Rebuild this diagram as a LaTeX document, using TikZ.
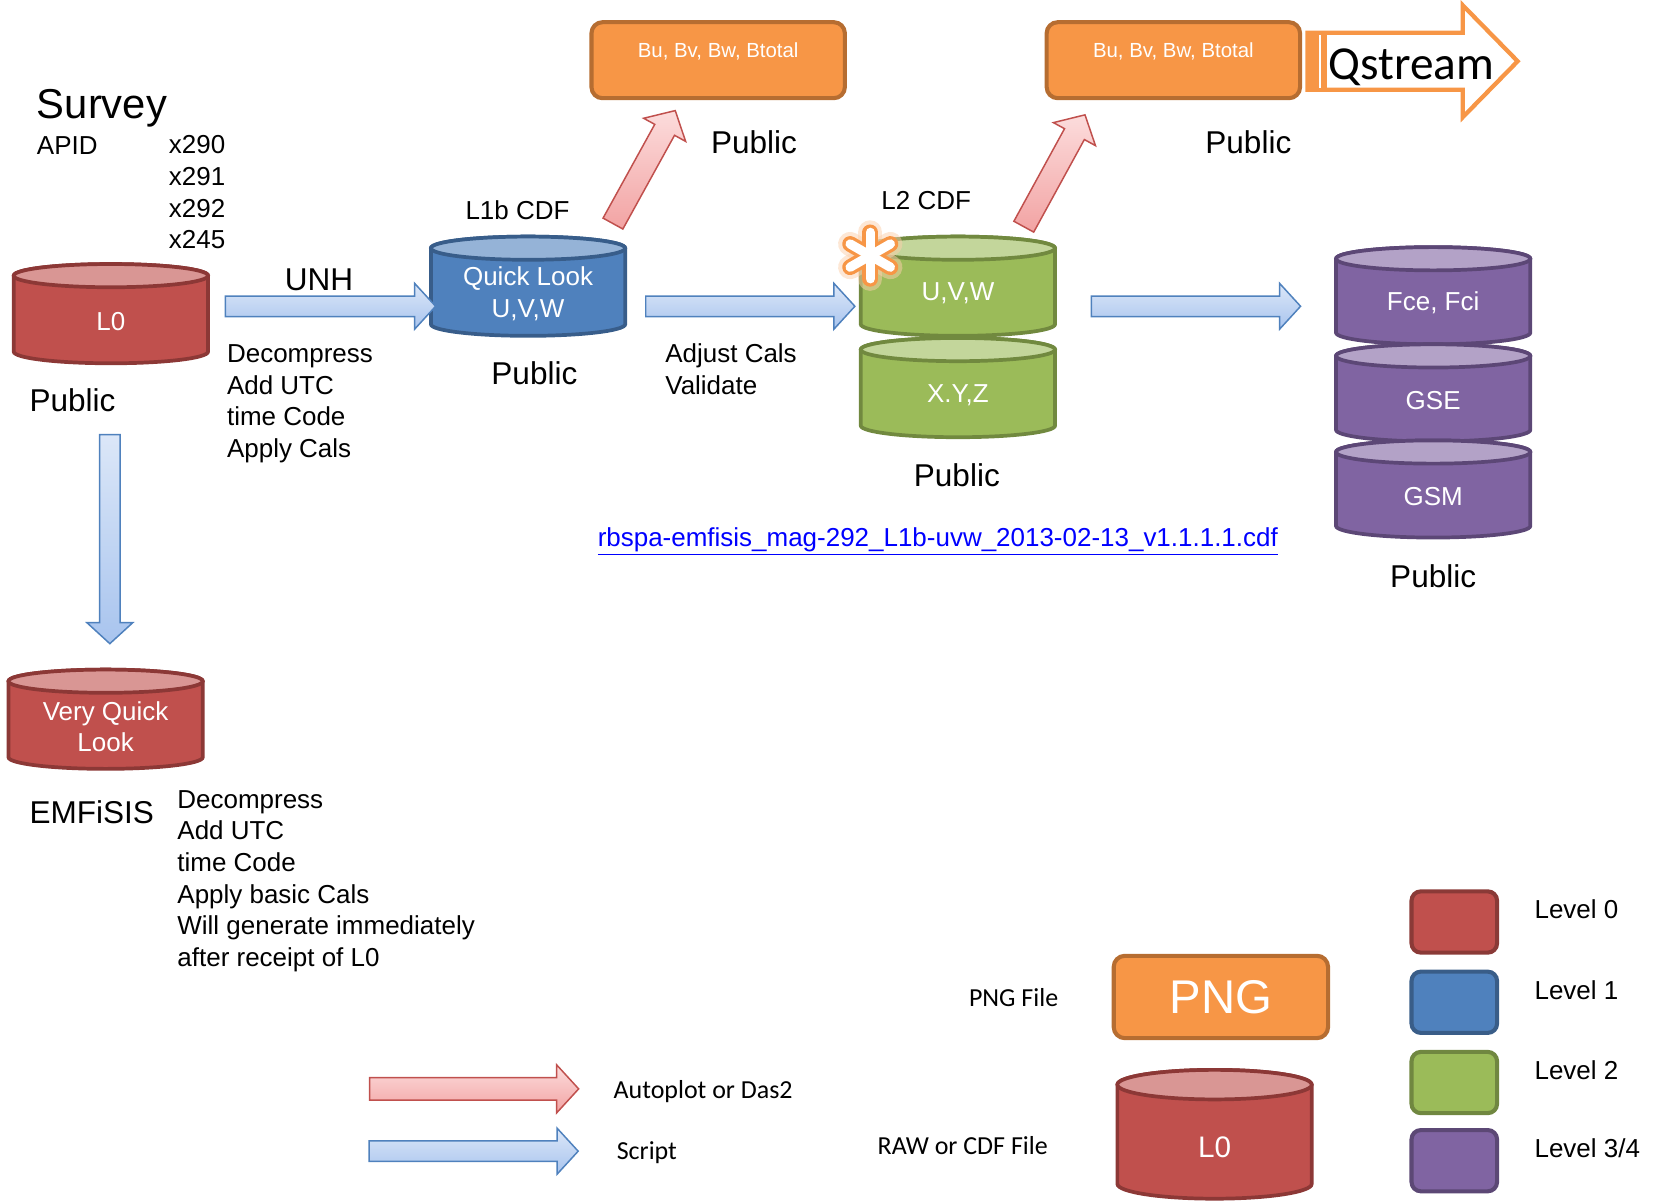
\documentclass[tikz,border=0pt]{standalone}
\usepackage{fontspec}
\setmainfont{Liberation Sans}
\newfontfamily\calibrifont{Carlito}
\usetikzlibrary{shapes.arrows,calc,positioning}

\definecolor{lzero}{HTML}{C0504D}
\definecolor{lzeroline}{HTML}{8C3836}
\definecolor{lzerotop}{HTML}{D99694}
\definecolor{lone}{HTML}{4F81BD}
\definecolor{loneline}{HTML}{385D8A}
\definecolor{lonetop}{HTML}{95B3D7}
\definecolor{ltwo}{HTML}{9BBB59}
\definecolor{ltwoline}{HTML}{71893F}
\definecolor{ltwotop}{HTML}{C3D69B}
\definecolor{lthree}{HTML}{8064A2}
\definecolor{lthreeline}{HTML}{5C4776}
\definecolor{lthreetop}{HTML}{B3A2C7}
\definecolor{plot}{HTML}{F79646}
\definecolor{plotline}{HTML}{B66D31}
\definecolor{scriptline}{HTML}{4F81BD}
\definecolor{scripttop}{HTML}{DCE7F8}
\definecolor{scriptbot}{HTML}{A8C4EE}
\definecolor{autoline}{HTML}{C0504D}
\definecolor{autotop}{HTML}{FCDCDC}
\definecolor{autobot}{HTML}{F2A3A3}

\tikzset{
  txt/.style={font=\fontsize{14}{17.07}\selectfont},
  pubtxt/.style={font=\fontsize{17}{20}\selectfont},
  calib/.style={font=\calibrifont\fontsize{14}{17}\selectfont},
  dbtxt/.style={minimum width=3.68cm, text=white, align=center, font=\fontsize{14}{17.07}\selectfont},
  plotbox/.style={draw=plotline, fill=plot, line width=2.2pt, rounded corners=6pt},
  swatch/.style={draw, line width=2.2pt, rounded corners=5pt, minimum width=1.62cm, minimum height=1.16cm},
  script/.style={single arrow, draw=scriptline, line width=0.8pt, top color=scripttop,
    bottom color=scriptbot, inner xsep=0pt, inner ysep=0.18cm, single arrow head extend=0.24cm,
    single arrow tip angle=95, allow upside down},
  autoplot/.style={single arrow, draw=autoline, line width=0.8pt, top color=autotop,
    bottom color=autobot, inner xsep=0pt, inner ysep=0.2cm, single arrow head extend=0.24cm,
    single arrow tip angle=95, allow upside down}
}
% drum: centre, half height, ellipse radius, colour
\newcommand{\drum}[4]{%
  \begin{scope}[shift={(#1)}]
    \filldraw[line width=2pt, draw=#4line, fill=#4] (-92,-#2+#3) -- (-92,#2-#3)
      arc[start angle=180, end angle=0, x radius=92, y radius=#3] -- (92,-#2+#3)
      arc[start angle=0, end angle=-180, x radius=92, y radius=#3] -- cycle;
    \filldraw[line width=2pt, draw=#4line, fill=#4top] (0,-#2+#3) ellipse[x radius=92, y radius=#3];
  \end{scope}}
\newcommand{\blockarrow}[3]{%
  \path let \p1=(#2), \p2=(#3), \n1={veclen(\x2-\x1,\y2-\y1)} in
    (\p1) -- (\p2) node[#1, midway, sloped, minimum height=\n1] {};}

\begin{document}
\begin{tikzpicture}[x=0.02cm, y=-0.02cm, every node/.style={inner sep=0pt, outer sep=0pt}]
  \useasboundingbox (0,0) rectangle (1568,1138);
  %% survey header
  \node[anchor=base west, font=\fontsize{22.5}{27}\selectfont] (survey) at (35,112) {Survey};
  \node[txt, anchor=base west] (apid) at (35,146) {APID};
  \node[txt, anchor=north west, align=left] (apidlist) at (160,128.4) {x290\\x291\\x292\\x245};
  %% data bases
  \drum{105,297}{47}{11}{lzero}
  \node[dbtxt, minimum height=1.6cm] (l0) at (105,304) {L0};
  \drum{500,271}{47}{11}{lone}
  \node[dbtxt, minimum height=1.6cm] (ql) at (500,278) {Quick Look\\U,V,W};
  \drum{907,271}{47}{11}{ltwo}
  \node[dbtxt, minimum height=1.6cm] (uvw) at (907,278) {U,V,W};
  \drum{907,367}{47}{11}{ltwo}
  \node[dbtxt, minimum height=1.6cm] (xyz) at (907,374) {X.Y,Z};
  \drum{1357,280}{46}{11}{lthree}
  \node[dbtxt, minimum height=1.6cm] (fce) at (1357,287) {Fce, Fci};
  \drum{1357,372}{46}{11}{lthree}
  \node[dbtxt, minimum height=1.6cm] (gse) at (1357,379) {GSE};
  \drum{1357,463}{46}{11}{lthree}
  \node[dbtxt, minimum height=1.6cm] (gsm) at (1357,470) {GSM};
  \drum{100,681}{47}{11}{lzero}
  \node[dbtxt, minimum height=1.6cm] (vql) at (100,688) {Very Quick\\Look};
  %% plots
  \node[plotbox, minimum width=4.8cm, minimum height=1.44cm] (bu1) at (680,57) {};
  \node[anchor=base, text=white, font=\fontsize{11}{13}\selectfont] (bu1txt) at (680,54) {Bu, Bv, Bw, Btotal};
  \node[plotbox, minimum width=4.8cm, minimum height=1.44cm] (bu2) at (1111,57) {};
  \node[anchor=base, text=white, font=\fontsize{11}{13}\selectfont] (bu2txt) at (1111,54) {Bu, Bv, Bw, Btotal};
  %% qstream
  \draw[draw=plot, line width=2.3pt, fill=white, line join=miter] (1238,31) -- (1385,31) -- (1385,5)
    -- (1437,58) -- (1385,111) -- (1385,85) -- (1238,85) -- cycle;
  \fill[plot] (1238,31) rectangle (1256,85);
  \draw[white, line width=0.8pt] (1250,33) -- (1250,83);
  \node[anchor=base west, font=\calibrifont\fontsize{25.5}{30}\selectfont] (qstream) at (1258,75) {Qstream};
  %% arrows
  \coordinate (flow) at (0,290);
  \blockarrow{script}{$(l0.east |- flow)+(12,0)$}{ql.west |- flow}
  \blockarrow{script}{$(ql.east |- flow)+(15,0)$}{$(uvw.west |- flow)+(-10,0)$}
  \blockarrow{script}{$(uvw.east |- flow)+(30,0)$}{$(fce.west |- flow)+(-38,0)$}
  \blockarrow{script}{$(l0.south)+(-1,63)$}{$(vql.north)+(4,-43)$}
  \blockarrow{autoplot}{$(ql.north)+(78,-22)$}{$(bu1.south)+(-43,16)$}
  \blockarrow{autoplot}{$(uvw.north)+(60,-19)$}{$(bu2.south)+(-86,20)$}
  %% star on L2
  \foreach \a in {90,30,150}
    \draw[plot!45, line width=13pt, line cap=round, opacity=0.5] ($(824,242)+(\a:22)$) -- ($(824,242)+(\a+180:22)$);
  \foreach \a in {90,30,150}
    \draw[plot, line width=8.5pt, line cap=round] ($(824,242)+(\a:22)$) -- ($(824,242)+(\a+180:22)$);
  \foreach \a in {90,30,150}
    \draw[white, line width=5pt, line cap=round] ($(824,242)+(\a:22)$) -- ($(824,242)+(\a+180:22)$);
  %% labels
  \node[pubtxt, anchor=base] (unh) at (302,275) {UNH};
  \node[txt, anchor=north west, align=left] (steps) at (215,326.4) {Decompress\\Add UTC\\time Code\\Apply Cals};
  \node[pubtxt, anchor=base west] (pub0) at (28,390) {Public};
  \node[txt, anchor=base] (l1b) at (490,208) {L1b CDF};
  \node[pubtxt, anchor=base] (pub1) at (506,364) {Public};
  \node[pubtxt, anchor=base] (pub1p) at (714,145) {Public};
  \node[txt, anchor=north west, align=left] (adjust) at (630,325.4) {Adjust Cals\\Validate};
  \node[txt, anchor=base] (l2) at (877,198) {L2 CDF};
  \node[pubtxt, anchor=base] (pub2) at (906,461) {Public};
  \node[pubtxt, anchor=base] (pub2p) at (1182,145) {Public};
  \node[txt, anchor=base, text=blue] (url) at (888,517) {\underline{rbspa-emfisis\_mag-292\_L1b-uvw\_2013-02-13\_v1.1.1.1.cdf}};
  \node[pubtxt, anchor=base] (pub3) at (1357,556) {Public};
  \node[pubtxt, anchor=base west] (emfisis) at (28,780) {EMFiSIS};
  \node[txt, anchor=north west, align=left] (vsteps) at (168,748.4) {Decompress\\Add UTC\\time Code\\Apply basic Cals\\Will generate immediately\\after receipt of L0};
  %% legend
  \coordinate (autostart) at (345,1031);
  \coordinate (autoend) at (543,1031);
  \coordinate (scriptstart) at (345,1090);
  \coordinate (scriptend) at (543,1090);
  \blockarrow{autoplot}{autostart}{autoend}
  \blockarrow{script}{scriptstart}{scriptend}
  \node[calib, anchor=base west] (autolbl) at (581,1040) {Autoplot or Das2};
  \node[calib, anchor=base west] (scriptlbl) at (584,1098) {Script};
  \node[calib, anchor=base east] (pnglbl) at (1002,953) {PNG File};
  \node[calib, anchor=base west] (rawlbl) at (831,1093) {RAW or CDF File};
  \node[plotbox, minimum width=4.06cm, minimum height=1.56cm, text=white, font=\fontsize{25.5}{30}\selectfont] (png) at (1156,944) {PNG};
  \drum{1150,1074}{61}{14}{lzero}
  \node[dbtxt, minimum height=2cm, font=\fontsize{16}{19}\selectfont] (raw) at (1150,1086) {L0};
  \foreach \lvl/\y/\c/\name in {0/873/lzero/Level 0, 1/949/lone/Level 1, 2/1025/ltwo/Level 2, 3/1099/lthree/Level 3\slash 4} {
    \node[swatch, draw=\c!72!black, fill=\c] (swatch\lvl) at (1377,\y) {};
    \node[txt, anchor=base west] (level\lvl) at (1453,\y-3) {\name};
  }
\end{tikzpicture}
\end{document}
